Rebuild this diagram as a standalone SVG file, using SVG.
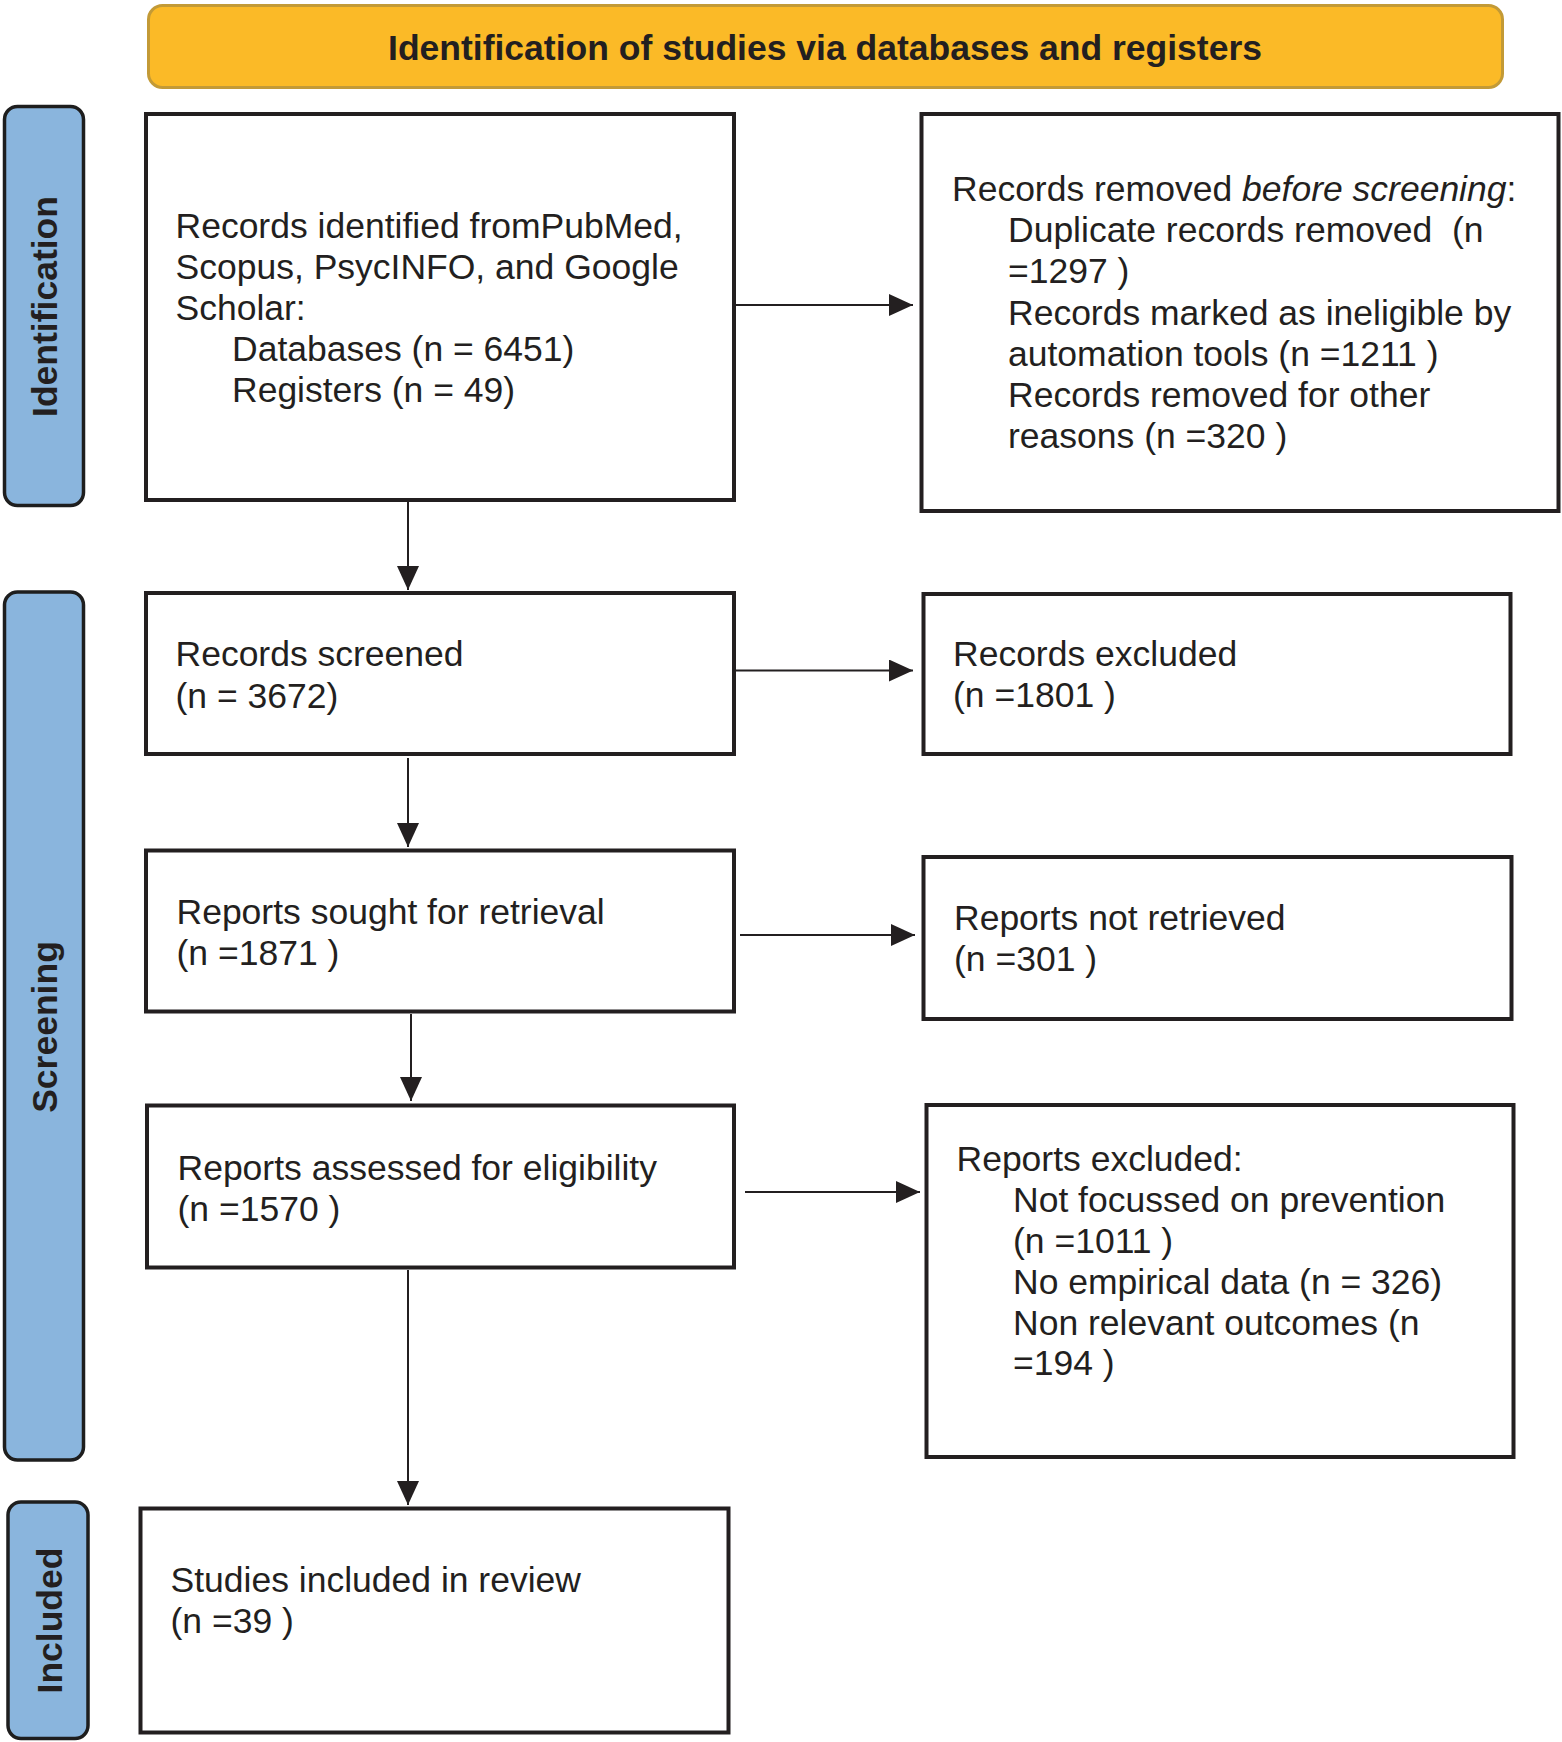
<svg xmlns="http://www.w3.org/2000/svg" width="1562" height="1742" viewBox="0 0 1562 1742">
<defs>
<style>
.box{fill:#fff;stroke:#231F20;stroke-width:4}
.bar{fill:#8AB5DD;stroke:#1E1E1E;stroke-width:3.5}
.t{font-family:"Liberation Sans",Arial,sans-serif;font-size:35.5px;fill:#231F20}
.lab{font-family:"Liberation Sans",Arial,sans-serif;font-size:35.5px;font-weight:bold;fill:#231F20;text-anchor:middle}
.hdr{font-family:"Liberation Sans",Arial,sans-serif;font-size:35.5px;font-weight:bold;fill:#231F20;text-anchor:middle}
.c{fill:none;stroke:#231F20;stroke-width:2;marker-end:url(#ah)}
</style>
<marker id="ah" markerUnits="userSpaceOnUse" markerWidth="24" markerHeight="22" refX="24" refY="11" orient="auto">
<path d="M0,0 L24,11 L0,22 z" fill="#231F20"/>
</marker>
</defs>
<rect width="1562" height="1742" fill="#fff"/>

<g id="header">
<rect x="148.5" y="5.5" width="1354" height="82" rx="14" fill="#FBBA27" stroke="#C39A36" stroke-width="3"/>
<text class="hdr" x="825" y="59.5">Identification of studies via databases and registers</text>
</g>

<g id="phase-identification">
<rect class="bar" x="4.5" y="106.5" width="79" height="399" rx="13"/>
<text class="lab" x="57" y="306.5" transform="rotate(-90 57 306.5)">Identification</text>
</g>
<g id="phase-screening">
<rect class="bar" x="4.5" y="592" width="79" height="868" rx="13"/>
<text class="lab" x="57" y="1027" transform="rotate(-90 57 1027)">Screening</text>
</g>
<g id="phase-included">
<rect class="bar" x="8" y="1502" width="80" height="236.5" rx="13"/>
<text class="lab" x="62" y="1620.5" transform="rotate(-90 62 1620.5)">Included</text>
</g>

<g id="connectors">
<path class="c" d="M408,502 V590"/>
<path class="c" d="M408,758 V847"/>
<path class="c" d="M411,1014 V1101"/>
<path class="c" d="M408,1270 V1505"/>
<path class="c" d="M736,305 H913"/>
<path class="c" d="M736,670.5 H913"/>
<path class="c" d="M740,935 H915"/>
<path class="c" d="M745,1192 H920"/>
</g>

<g id="records-identified">
<rect class="box" x="146" y="114" width="588" height="386"/>
<text class="t" x="175.5" y="238">Records identified fromPubMed,</text>
<text class="t" x="175.5" y="279">Scopus, PsycINFO, and Google</text>
<text class="t" x="175.5" y="320">Scholar:</text>
<text class="t" x="232" y="361">Databases (n = 6451)</text>
<text class="t" x="232" y="402">Registers (n = 49)</text>
</g>

<g id="records-removed">
<rect class="box" x="921.5" y="114" width="637" height="397"/>
<text class="t" x="952" y="201">Records removed <tspan font-style="italic">before screening</tspan>:</text>
<text class="t" x="1008" y="242" xml:space="preserve">Duplicate records removed  (n</text>
<text class="t" x="1008" y="283">=1297 )</text>
<text class="t" x="1008" y="325">Records marked as ineligible by</text>
<text class="t" x="1008" y="365.5">automation tools (n =1211 )</text>
<text class="t" x="1008" y="407">Records removed for other</text>
<text class="t" x="1008" y="448">reasons (n =320 )</text>
</g>

<g id="records-screened">
<rect class="box" x="146" y="593" width="588" height="161"/>
<text class="t" x="175.5" y="666">Records screened</text>
<text class="t" x="175.5" y="707.5">(n = 3672)</text>
</g>

<g id="records-excluded">
<rect class="box" x="923.5" y="594" width="587" height="160"/>
<text class="t" x="953" y="666">Records excluded</text>
<text class="t" x="953" y="707">(n =1801 )</text>
</g>

<g id="reports-sought">
<rect class="box" x="146" y="850.5" width="588" height="161"/>
<text class="t" x="176.5" y="924">Reports sought for retrieval</text>
<text class="t" x="176.5" y="965">(n =1871 )</text>
</g>

<g id="reports-not-retrieved">
<rect class="box" x="923.5" y="857" width="588" height="162"/>
<text class="t" x="954" y="930">Reports not retrieved</text>
<text class="t" x="954" y="970.5">(n =301 )</text>
</g>

<g id="reports-assessed">
<rect class="box" x="147" y="1105.5" width="587" height="162"/>
<text class="t" x="177.5" y="1179.5">Reports assessed for eligibility</text>
<text class="t" x="177.5" y="1220.5">(n =1570 )</text>
</g>

<g id="reports-excluded">
<rect class="box" x="926.5" y="1105" width="587" height="352"/>
<text class="t" x="956.5" y="1171">Reports excluded:</text>
<text class="t" x="1013" y="1212">Not focussed on prevention</text>
<text class="t" x="1013" y="1252.5">(n =1011 )</text>
<text class="t" x="1013" y="1293.5">No empirical data (n = 326)</text>
<text class="t" x="1013" y="1334.5">Non relevant outcomes (n</text>
<text class="t" x="1013" y="1375">=194 )</text>
</g>

<g id="studies-included">
<rect class="box" x="140.5" y="1508.5" width="588" height="224"/>
<text class="t" x="170.5" y="1592">Studies included in review</text>
<text class="t" x="170.5" y="1633">(n =39 )</text>
</g>
</svg>
